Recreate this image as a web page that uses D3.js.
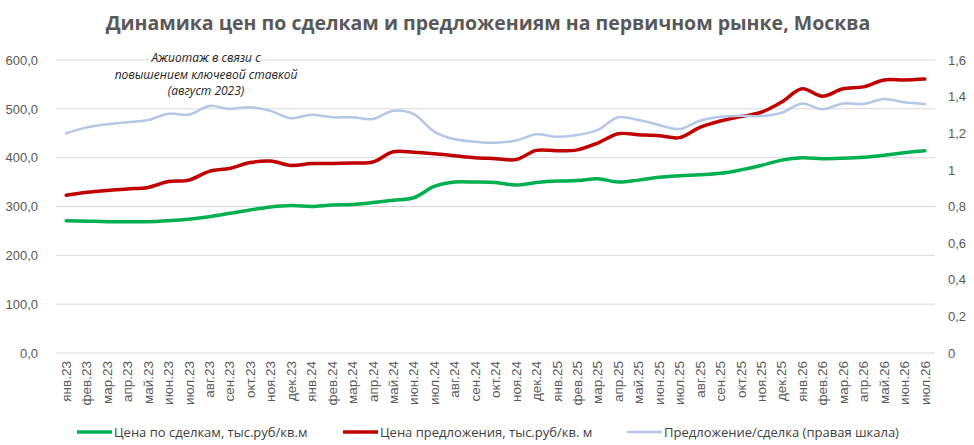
<!DOCTYPE html>
<html>
<head>
<meta charset="utf-8">
<script src="https://cdn.jsdelivr.net/npm/d3@7"></script>
<style>
  body { margin: 0; background: #fff; }
  svg { font-family: "Open Sans", sans-serif; }
</style>
</head>
<body>
<svg id="chart" width="974" height="445"></svg>
<script>
// months, jan 2023 .. jul 2026
var MONTHS = ["янв.23","фев.23","мар.23","апр.23","май.23","июн.23","июл.23","авг.23","сен.23","окт.23","ноя.23","дек.23",
              "янв.24","фев.24","мар.24","апр.24","май.24","июн.24","июл.24","авг.24","сен.24","окт.24","ноя.24","дек.24",
              "янв.25","фев.25","мар.25","апр.25","май.25","июн.25","июл.25","авг.25","сен.25","окт.25","ноя.25","дек.25",
              "янв.26","фев.26","мар.26","апр.26","май.26","июн.26","июл.26"];

// deal price, thousand rub / sq.m
var DEAL_PRICE = [271,270,269,269,269,271,274,279,286,293,299,302,
                  300,303,304,308,313,318,341,350,350,349,344,349,
                  352,353,357,350,354,360,363,365,368,375,384,395,
                  400,398,399,401,405,410,414];

// offer price, thousand rub / sq.m
var OFFER_PRICE = [323,329,333,336,339,351,354,372,378,390,393,384,
                   388,388,389,391,412,411,408,404,400,398,396,415,
                   414,416,430,449,447,445,441,462,475,484,493,514,
                   541,526,541,545,559,559,561];

// offer / deal ratio (right scale)
var RATIO = [1.200,1.232,1.249,1.260,1.272,1.307,1.302,1.349,1.333,1.342,1.322,1.282,
             1.301,1.287,1.287,1.278,1.323,1.305,1.209,1.167,1.154,1.148,1.160,1.194,
             1.181,1.190,1.218,1.287,1.272,1.245,1.223,1.268,1.290,1.296,1.294,1.312,
             1.363,1.331,1.363,1.360,1.387,1.369,1.360];

var LEFT_TICKS = [0,100,200,300,400,500,600];
var RIGHT_TICKS = [0,0.2,0.4,0.6,0.8,1,1.2,1.4,1.6];

var TITLE = "Динамика цен по сделкам и предложениям на первичном рынке, Москва";
var NOTE = ["Ажиотаж в связи с","повышением ключевой ставкой","(август 2023)"];

var SERIES = [
  {name:"Цена по сделкам, тыс.руб/кв.м", values:DEAL_PRICE, axis:"left", color:"#00b050", width:3.5},
  {name:"Цена предложения, тыс.руб/кв. м", values:OFFER_PRICE, axis:"left", color:"#c00000", width:3.5},
  {name:"Предложение/сделка (правая шкала)", values:RATIO, axis:"right", color:"#b4c7e7", width:2.5}
];

var SVG = d3.select("#chart");
var plotL = 56, plotR = 935, plotT = 60, plotB = 353;

var x = d3.scaleBand().domain(MONTHS).range([plotL, plotR]);
var yL = d3.scaleLinear().domain([0,600]).range([plotB, plotT]);
var yR = d3.scaleLinear().domain([0,1.6]).range([plotB, plotT]);

var fmtL = function(d){ return d3.format(".1f")(d).replace(".", ","); };
var fmtR = function(d){ return String(d).replace(".", ","); };

// title
SVG.append("text")
   .attr("x", 488).attr("y", 30)
   .attr("text-anchor", "middle")
   .style("font-size", "19.5px").style("font-weight", "bold")
   .attr("fill", "#595959")
   .text(TITLE);

// gridlines
SVG.selectAll(".grid")
   .data(LEFT_TICKS)
   .enter().append("line")
   .attr("class", "grid")
   .attr("x1", plotL).attr("x2", plotR)
   .attr("y1", function(d){ return yL(d); })
   .attr("y2", function(d){ return yL(d); })
   .attr("stroke", "#d9d9d9").attr("stroke-width", 1);

// left axis
var axL = SVG.append("g")
   .attr("transform", "translate(" + (plotL - 15) + ",0)")
   .call(d3.axisLeft(yL).tickValues(LEFT_TICKS).tickFormat(fmtL).tickSize(0));
axL.select(".domain").remove();
axL.selectAll("text").style("font-size", "13px").attr("fill", "#595959");

// right axis
var axR = SVG.append("g")
   .attr("transform", "translate(" + (plotR + 13) + ",0)")
   .call(d3.axisRight(yR).tickValues(RIGHT_TICKS).tickFormat(fmtR).tickSize(0));
axR.select(".domain").remove();
axR.selectAll("text").style("font-size", "13px").attr("fill", "#595959").attr("x", 0);

// x axis labels
var axX = SVG.append("g")
   .attr("transform", "translate(0," + (plotB + 8) + ")")
   .call(d3.axisBottom(x).tickSize(0));
axX.select(".domain").remove();
axX.selectAll("text")
   .style("font-size", "13.5px").attr("fill", "#595959")
   .attr("text-anchor", "end")
   .attr("transform", "rotate(-90)")
   .attr("x", 0).attr("y", 0).attr("dy", "0.35em");

// lines
var cx = function(i){ return x(MONTHS[i]) + x.bandwidth() / 2; };
SERIES.forEach(function(s){
  var ys = s.axis == "left" ? yL : yR;
  var line = d3.line()
     .x(function(d, i){ return cx(i); })
     .y(function(d){ return ys(d); })
     .curve(d3.curveCatmullRom.alpha(0.5));
  SVG.append("path")
     .datum(s.values)
     .attr("d", line)
     .attr("fill", "none")
     .attr("stroke", s.color)
     .attr("stroke-width", s.width)
     .attr("stroke-linecap", "round")
     .attr("stroke-linejoin", "round");
});

// annotation
SVG.append("text")
   .attr("x", 206).attr("y", 62)
   .attr("text-anchor", "middle")
   .style("font-size", "12px").style("font-style", "italic")
   .attr("fill", "#262626")
   .selectAll("tspan")
   .data(NOTE)
   .enter().append("tspan")
   .attr("x", 206)
   .attr("dy", function(d, i){ return i ? 16.5 : 0; })
   .text(function(d){ return d; });

// legend
var legendX = [77, 343, 627];
var lg = SVG.selectAll(".legend")
   .data(SERIES)
   .enter().append("g")
   .attr("class", "legend")
   .attr("transform", function(d, i){ return "translate(" + legendX[i] + ",432)"; });
lg.append("line")
   .attr("x1", 0).attr("x2", 35)
   .attr("stroke", function(d){ return d.color; })
   .attr("stroke-width", function(d){ return d.width; });
lg.append("text")
   .attr("x", 37).attr("dy", "0.35em")
   .style("font-size", "13px").attr("fill", "#404040")
   .text(function(d){ return d.name; });
</script>
</body>
</html>
